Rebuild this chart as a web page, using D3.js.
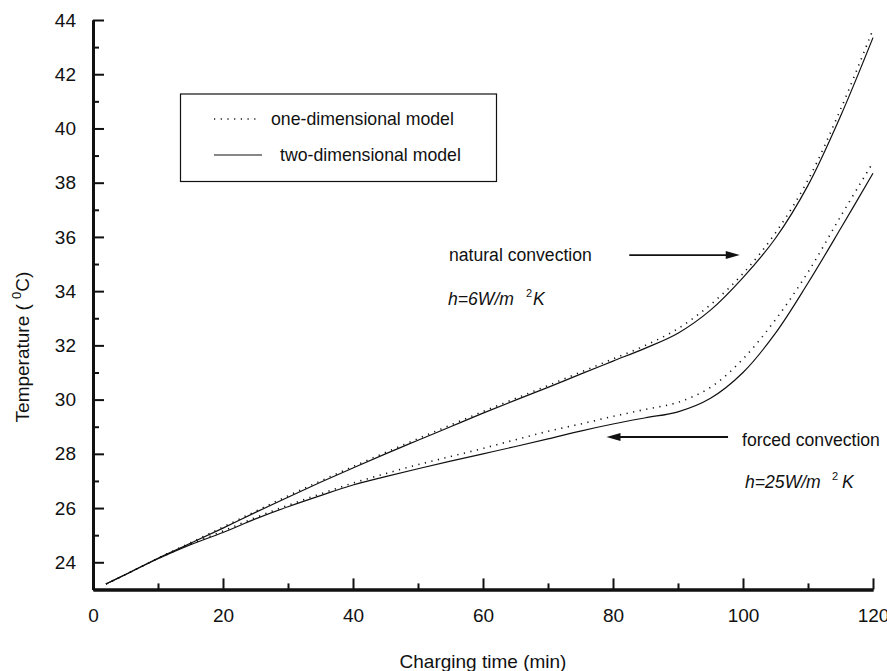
<!DOCTYPE html>
<html>
<head>
<meta charset="utf-8">
<script src="https://cdn.jsdelivr.net/npm/d3@7"></script>
<style>
  body { margin: 0; background: #fff; }
  svg text { font-family: "Liberation Sans", Arial, Helvetica, sans-serif; fill: #111; }
</style>
</head>
<body>
<div id="chart"></div>
<script>
// charging time (min)
const time = [2, 5, 10, 15, 20, 25, 30, 35, 40, 45, 50, 55, 60, 65, 70, 75, 80, 85, 90, 95, 100, 105, 110, 115, 120];
// natural convection, h=6 W/m2K
const naturalTwoD = [23.2, 23.55, 24.15, 24.7, 25.26, 25.84, 26.4, 26.95, 27.48, 28.0, 28.5, 29.0, 29.5, 29.98, 30.45, 30.94, 31.42, 31.9, 32.45, 33.3, 34.5, 35.95, 37.9, 40.45, 43.35];
const naturalOneD = [23.2, 23.55, 24.15, 24.72, 25.3, 25.88, 26.45, 27.0, 27.53, 28.05, 28.56, 29.06, 29.56, 30.04, 30.52, 31.01, 31.5, 32.0, 32.62, 33.5, 34.65, 36.15, 38.1, 40.7, 43.65];
// forced convection, h=25 W/m2K
const forcedTwoD = [23.2, 23.55, 24.13, 24.65, 25.1, 25.6, 26.05, 26.46, 26.85, 27.16, 27.45, 27.73, 28.0, 28.27, 28.55, 28.84, 29.1, 29.33, 29.55, 30.05, 31.0, 32.45, 34.3, 36.3, 38.35];
const forcedOneD = [23.2, 23.55, 24.14, 24.67, 25.15, 25.65, 26.1, 26.52, 26.92, 27.27, 27.6, 27.9, 28.2, 28.52, 28.83, 29.1, 29.38, 29.64, 29.9, 30.45, 31.5, 32.95, 34.7, 36.75, 38.75];

const xTicks = [0, 20, 40, 60, 80, 100, 120];
const xMinor = [10, 30, 50, 70, 90, 110];
const yTicks = [24, 26, 28, 30, 32, 34, 36, 38, 40, 42, 44];
const yMinor = [23, 25, 27, 29, 31, 33, 35, 37, 39, 41, 43];

const width = 887, height = 671;
const svg = d3.select('#chart').append('svg')
    .attr('width', width)
    .attr('height', height);

const x = d3.scaleLinear().domain([0, 120]).range([93, 873]);
const y = d3.scaleLinear().domain([23, 44]).range([589.4, 20]);

// axes, ticks pointing inward
svg.append('g').attr('transform', `translate(${x(0)},0)`)
    .call(d3.axisLeft(y).tickValues(yTicks).tickSize(-11).tickSizeOuter(0).tickPadding(17));
svg.append('g').attr('transform', `translate(${x(0)},0)`)
    .call(d3.axisLeft(y).tickValues(yMinor).tickSize(-6).tickSizeOuter(0).tickFormat(''));
svg.append('g').attr('transform', `translate(0,${y(23)})`)
    .call(d3.axisBottom(x).tickValues(xTicks).tickSize(-11).tickSizeOuter(0).tickPadding(19));
svg.append('g').attr('transform', `translate(0,${y(23)})`)
    .call(d3.axisBottom(x).tickValues(xMinor).tickSize(-6).tickSizeOuter(0).tickFormat(''));

svg.selectAll('.domain').attr('stroke', '#111').attr('stroke-width', 3);
svg.selectAll('.tick line').attr('stroke', '#111').attr('stroke-width', 2);
svg.selectAll('.tick text').style('font-size', '19px').attr('fill', '#111');

// axis titles
svg.append('text')
    .attr('x', 483).attr('y', 668)
    .attr('text-anchor', 'middle')
    .style('font-size', '19px')
    .text('Charging time (min)');

const yTitle = svg.append('text')
    .attr('transform', 'translate(29,347) rotate(-90)')
    .attr('text-anchor', 'middle')
    .style('font-size', '19px');
yTitle.append('tspan').text('Temperature ( ');
yTitle.append('tspan').attr('dy', -8).style('font-size', '13px').text('0');
yTitle.append('tspan').attr('dy', 8).text('C)');

// curves
const line = d3.line()
    .x(d => x(d[0]))
    .y(d => y(d[1]))
    .curve(d3.curveCatmullRom.alpha(0.5));

const series = [
    { values: naturalOneD, dotted: true },
    { values: naturalTwoD, dotted: false },
    { values: forcedOneD, dotted: true },
    { values: forcedTwoD, dotted: false }
];

svg.selectAll('.curve')
    .data(series)
    .enter()
    .append('path')
    .attr('class', 'curve')
    .attr('d', d => line(time.map((t, i) => [t, d.values[i]])))
    .attr('fill', 'none')
    .attr('stroke', '#111')
    .attr('stroke-width', d => d.dotted ? 1.6 : 1.2)
    .attr('stroke-dasharray', d => d.dotted ? '1.2,5.5' : null);

// legend
const legend = svg.append('g');
legend.append('rect')
    .attr('x', 180.5).attr('y', 94)
    .attr('width', 316).attr('height', 87.5)
    .attr('fill', 'none').attr('stroke', '#111').attr('stroke-width', 1.2);
legend.append('line')
    .attr('x1', 214).attr('x2', 256).attr('y1', 119).attr('y2', 119)
    .attr('stroke', '#111').attr('stroke-width', 1.6).attr('stroke-dasharray', '1.2,5.5');
legend.append('text').attr('x', 271).attr('y', 125).style('font-size', '17.7px').text('one-dimensional model');
legend.append('line')
    .attr('x1', 214).attr('x2', 262).attr('y1', 155).attr('y2', 155)
    .attr('stroke', '#111').attr('stroke-width', 1.2);
legend.append('text').attr('x', 280).attr('y', 161).style('font-size', '17.7px').text('two-dimensional model');

// annotations
function arrow(t0, t1, temp) {
    const y0 = y(temp), xa = x(t0), xb = x(t1);
    const dir = xb > xa ? 1 : -1;
    svg.append('line')
        .attr('x1', xa).attr('x2', xb - dir * 10).attr('y1', y0).attr('y2', y0)
        .attr('stroke', '#111').attr('stroke-width', 1.8);
    svg.append('path')
        .attr('d', `M${xb},${y0} L${xb - dir * 14},${y0 - 4} L${xb - dir * 14},${y0 + 4} Z`)
        .attr('fill', '#111');
}
arrow(82.5, 99.5, 35.33);
arrow(97.7, 79, 28.62);

svg.append('text').attr('x', 449).attr('y', 261).style('font-size', '17.6px').text('natural convection');
const h1 = svg.append('text').attr('x', 448).attr('y', 305).style('font-size', '17.6px');
h1.append('tspan').style('font-style', 'italic').text('h=6W/m');
h1.append('tspan').attr('x', 526).attr('dy', -8).style('font-size', '11px').text('2');
h1.append('tspan').attr('x', 533).attr('dy', 8).style('font-style', 'italic').text('K');

svg.append('text').attr('x', 742).attr('y', 446).style('font-size', '17.6px').text('forced convection');
const h2 = svg.append('text').attr('x', 745).attr('y', 488).style('font-size', '17.6px');
h2.append('tspan').style('font-style', 'italic').text('h=25W/m');
h2.append('tspan').attr('x', 832).attr('dy', -8).style('font-size', '11px').text('2');
h2.append('tspan').attr('x', 842).attr('dy', 8).style('font-style', 'italic').text('K');
</script>
</body>
</html>
